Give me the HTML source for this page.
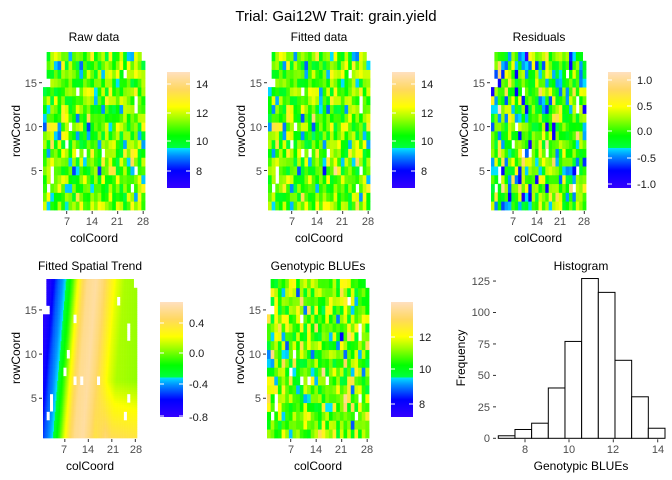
<!DOCTYPE html>
<html><head><meta charset="utf-8"><style>
html,body{margin:0;padding:0;background:#fff;width:672px;height:480px;overflow:hidden}
svg{display:block;font-family:"Liberation Sans",Arial,sans-serif}
.t{font-size:12px;fill:#000}
.tk{font-size:11px;fill:#4d4d4d}
.lg{font-size:11px;fill:#1a1a1a}
</style></head><body>
<svg id="s" width="672" height="480" viewBox="0 0 672 480" xmlns="http://www.w3.org/2000/svg">
<defs>
<linearGradient id="pal" x1="0" y1="1" x2="0" y2="0">
<stop offset="0" stop-color="#3300ff"/><stop offset="0.15" stop-color="#0000ff"/>
<stop offset="0.28" stop-color="#0090ff"/><stop offset="0.345" stop-color="#00e5ff"/>
<stop offset="0.345" stop-color="#00ff40"/><stop offset="0.45" stop-color="#00ff00"/>
<stop offset="0.6" stop-color="#a0ff00"/><stop offset="0.7" stop-color="#ffff00"/>
<stop offset="0.85" stop-color="#ffd860"/><stop offset="1" stop-color="#ffe0c0"/>
</linearGradient>
</defs>
<text x="336" y="21" text-anchor="middle" style="font-size:15px">Trial: Gai12W Trait: grain.yield</text>
<text class="t" x="94" y="41" text-anchor="middle">Raw data</text>
<text class="t" x="319" y="41" text-anchor="middle">Fitted data</text>
<text class="t" x="539" y="41" text-anchor="middle">Residuals</text>
<text class="t" x="90" y="270" text-anchor="middle">Fitted Spatial Trend</text>
<text class="t" x="318" y="270" text-anchor="middle">Genotypic BLUEs</text>
<text class="t" x="581" y="270" text-anchor="middle">Histogram</text>
<g id="heat"></g>
<text class="t" x="94" y="242" text-anchor="middle">colCoord</text>
<text class="t" x="319" y="242" text-anchor="middle">colCoord</text>
<text class="t" x="538" y="242" text-anchor="middle">colCoord</text>
<text class="t" x="90" y="470" text-anchor="middle">colCoord</text>
<text class="t" x="318" y="470" text-anchor="middle">colCoord</text>
<text class="t" x="581" y="470" text-anchor="middle">Genotypic BLUEs</text>
<text class="t" transform="translate(20,131) rotate(-90)" text-anchor="middle">rowCoord</text>
<text class="t" transform="translate(245,131) rotate(-90)" text-anchor="middle">rowCoord</text>
<text class="t" transform="translate(468,131) rotate(-90)" text-anchor="middle">rowCoord</text>
<text class="t" transform="translate(20,358) rotate(-90)" text-anchor="middle">rowCoord</text>
<text class="t" transform="translate(244,358) rotate(-90)" text-anchor="middle">rowCoord</text>
<text class="t" transform="translate(465,358) rotate(-90)" text-anchor="middle">Frequency</text>
<g class="tk" text-anchor="end">
<text x="37" y="87">15</text><text x="37" y="131">10</text><text x="37" y="175">5</text>
<text x="262" y="87">15</text><text x="262" y="131">10</text><text x="262" y="175">5</text>
<text x="485" y="87">15</text><text x="485" y="131">10</text><text x="485" y="175">5</text>
<text x="37" y="314">15</text><text x="37" y="358">10</text><text x="37" y="402">5</text>
<text x="261" y="314">15</text><text x="261" y="358">10</text><text x="261" y="402">5</text>
</g>
<g class="tk" text-anchor="middle">
<text x="67" y="225">7</text><text x="92" y="225">14</text><text x="117" y="225">21</text><text x="143" y="225">28</text>
<text x="292" y="225">7</text><text x="317" y="225">14</text><text x="342" y="225">21</text><text x="368" y="225">28</text>
<text x="513" y="225">7</text><text x="537" y="225">14</text><text x="560" y="225">21</text><text x="584" y="225">28</text>
<text x="64" y="453">7</text><text x="88" y="453">14</text><text x="113" y="453">21</text><text x="136" y="453">28</text>
<text x="291" y="453">7</text><text x="316" y="453">14</text><text x="341" y="453">21</text><text x="367" y="453">28</text>
</g>
<rect x="167" y="72" width="23" height="116" fill="url(#pal)"/>
<rect x="392" y="72" width="23" height="116" fill="url(#pal)"/>
<rect x="608" y="72" width="23" height="116" fill="url(#pal)"/>
<rect x="160" y="302" width="23" height="115" fill="url(#pal)"/>
<rect x="391" y="302" width="22" height="115" fill="url(#pal)"/>
<g id="lt" stroke="#fff" stroke-width="1"></g>
<g class="lg">
<text x="196" y="88">14</text><text x="196" y="117">12</text><text x="196" y="145">10</text><text x="196" y="175">8</text>
<text x="421" y="88">14</text><text x="421" y="117">12</text><text x="421" y="145">10</text><text x="421" y="175">8</text>
<text x="637" y="84">1.0</text><text x="637" y="110">0.5</text><text x="637" y="135">0.0</text><text x="637" y="162">-0.5</text><text x="637" y="188">-1.0</text>
<text x="189" y="327">0.4</text><text x="189" y="357">0.0</text><text x="189" y="388">-0.4</text><text x="189" y="421">-0.8</text>
<text x="419" y="341">12</text><text x="419" y="373">10</text><text x="419" y="408">8</text>
</g>
<g id="hist" fill="#fff" stroke="#000" stroke-width="1"></g>
<g class="tk" text-anchor="end">
<text x="490" y="442">0</text><text x="490" y="411">25</text><text x="490" y="379">50</text><text x="490" y="348">75</text><text x="490" y="316">100</text><text x="490" y="285">125</text>
</g>
<g class="tk" text-anchor="middle">
<text x="525" y="453">8</text><text x="569" y="453">10</text><text x="613" y="453">12</text><text x="658" y="453">14</text>
</g>
</svg>
<script>
(function(){
var NS="http://www.w3.org/2000/svg",heat=document.getElementById('heat');
function el(p,n,a){var e=document.createElementNS(NS,n);for(var k in a)e.setAttribute(k,a[k]);p.appendChild(e);return e;}
var a32=987654321;function rnd(){a32|=0;a32=a32+0x6D2B79F5|0;var t=Math.imul(a32^a32>>>15,1|a32);t=t+Math.imul(t^t>>>7,61|t)^t;return ((t^t>>>14)>>>0)/4294967296;}
function nrm(){var u=rnd(),v=rnd();if(u<1e-6)u=1e-6;return Math.sqrt(-2*Math.log(u))*Math.cos(2*Math.PI*v);}
var st=[[0,[51,0,255]],[.15,[0,0,255]],[.28,[0,144,255]],[.344,[0,229,255]],[.346,[0,255,64]],[.45,[0,255,0]],[.6,[160,255,0]],[.7,[255,255,0]],[.85,[255,216,96]],[1,[255,224,192]]];
function col(t){if(!(t>=0))t=0;if(t>1)t=1;for(var i=1;i<st.length;i++){if(t<=st[i][0]){var a=st[i-1],b=st[i],f=(t-a[0])/(b[0]-a[0]||1);return 'rgb('+[0,1,2].map(function(k){return Math.round(a[1][k]+f*(b[1][k]-a[1][k]))}).join(',')+')';}}return 'rgb(255,224,192)';}
var miss={};for(var i=0;i<16;i++){miss[(2+Math.floor(rnd()*25))+','+(1+Math.floor(rnd()*16))]=1;}
function present(c,r){if(c==1&&r>14)return false;if(c==28&&r>17)return false;return !miss[c+','+r];}
function panel(x0,x1,y0,y1,fn){var w=(x1-x0)/28,h=(y1-y0)/18;
 for(var c=1;c<=28;c++)for(var r=1;r<=18;r++){if(!present(c,r))continue;
  el(heat,'rect',{x:(x0+(c-1)*w).toFixed(2),y:(y1-r*h).toFixed(2),width:(w+0.4).toFixed(2),height:(h+0.4).toFixed(2),fill:col(fn(c,r))});}
 [5,10,15].forEach(function(r){var y=y1-(r-.5)*h;el(heat,'line',{x1:x0-4,x2:x0-1,y1:y,y2:y,stroke:'#333'});});
 [7,14,21,28].forEach(function(c){var x=x0+(c-.5)*w;el(heat,'line',{x1:x,x2:x,y1:y1+1,y2:y1+4,stroke:'#333'});});
}
var raw={},fit={},res={},blu={};
for(var c=1;c<=28;c++)for(var r=1;r<=18;r++){var b=11+1.0*nrm();raw[c+','+r]=b;fit[c+','+r]=b+0.25*nrm();res[c+','+r]=0.38*nrm();blu[c+','+r]=10.9+0.95*nrm();}
panel(43,145,52,210,function(c,r){return (raw[c+','+r]-6.82)/8.0;});
panel(268,370,52,210,function(c,r){return (fit[c+','+r]-6.82)/8.0;});
panel(491,586,52,210,function(c,r){return (res[c+','+r]+1.076)/2.232;});
panel(267,369,279,438,function(c,r){return (blu[c+','+r]-7.22)/6.86;});
var pts=[[-4,-.8],[-2,-.68],[0,-.47],[1.5,-.38],[2.5,-.3],[4.5,-.05],[6,.2],[7.5,.42],[9,.55],[11.5,.6],[13.5,.5],[15.5,.35],[17.5,.2],[20,.1],[28,.05]];
function sp(c,r){var s=c-1-(r-1)*0.22;var v=pts[pts.length-1][1];if(s<=pts[0][0])v=pts[0][1];else for(var i=1;i<pts.length;i++){if(s<=pts[i][0]){var a=pts[i-1],b=pts[i];v=a[1]+(s-a[0])/(b[0]-a[0])*(b[1]-a[1]);break;}}
 if(c>16&&r<7)v=Math.max(v,v+0.3*Math.min(1,(c-16)/3)*(7-r)/6);return v;}
(function(){var x0=43,x1=137,y0=279,y1=438,w=(x1-x0)/28,h=(y1-y0)/18,sub=4;
 for(var c=1;c<=28;c++)for(var r=1;r<=18;r++){if(!present(c,r))continue;
  for(var i=0;i<sub;i++)for(var j=0;j<sub;j++){var cc=c-.5+(i+.5)/sub,rr=r-.5+(j+.5)/sub;
   el(heat,'rect',{x:(x0+(c-1)*w+i*w/sub).toFixed(2),y:(y1-r*h+(sub-1-j)*h/sub).toFixed(2),width:(w/sub+.3).toFixed(2),height:(h/sub+.3).toFixed(2),fill:col((sp(cc,rr)+0.8)/1.47)});}}
 [5,10,15].forEach(function(r){var y=y1-(r-.5)*h;el(heat,'line',{x1:x0-4,x2:x0-1,y1:y,y2:y,stroke:'#333'});});
 [7,14,21,28].forEach(function(c){var x=x0+(c-.5)*w;el(heat,'line',{x1:x,x2:x,y1:y1+1,y2:y1+4,stroke:'#333'});});
})();
var lt=document.getElementById('lt');
function lticks(x,w,ys){ys.forEach(function(y){el(lt,'line',{x1:x,x2:x+4,y1:y,y2:y});el(lt,'line',{x1:x+w-4,x2:x+w,y1:y,y2:y});});}
lticks(167,23,[84,113,141,171]);lticks(392,23,[84,113,141,171]);lticks(608,23,[80,106,131,158,184]);
lticks(160,23,[323,353,384,416]);lticks(391,22,[337,369,404]);
var h=document.getElementById('hist'),cnt=[2,7,12,40,77,127,116,62,33,8],x=498.3,bw=16.67,base=438.3,k=1.258;
cnt.forEach(function(n,i){el(h,'rect',{x:(x+i*bw).toFixed(2),y:(base-n*k).toFixed(2),width:bw.toFixed(2),height:(n*k).toFixed(2)});});
var g=document.getElementById('s');
[0,25,50,75,100,125].forEach(function(v){var y=base-v*k;el(g,'line',{x1:493,x2:496,y1:y,y2:y,stroke:'#333'});});
[525,569,613.3,657.7].forEach(function(xx){el(g,'line',{x1:xx,x2:xx,y1:base+1,y2:base+4,stroke:'#333'});});
})();
</script>
</body></html>
